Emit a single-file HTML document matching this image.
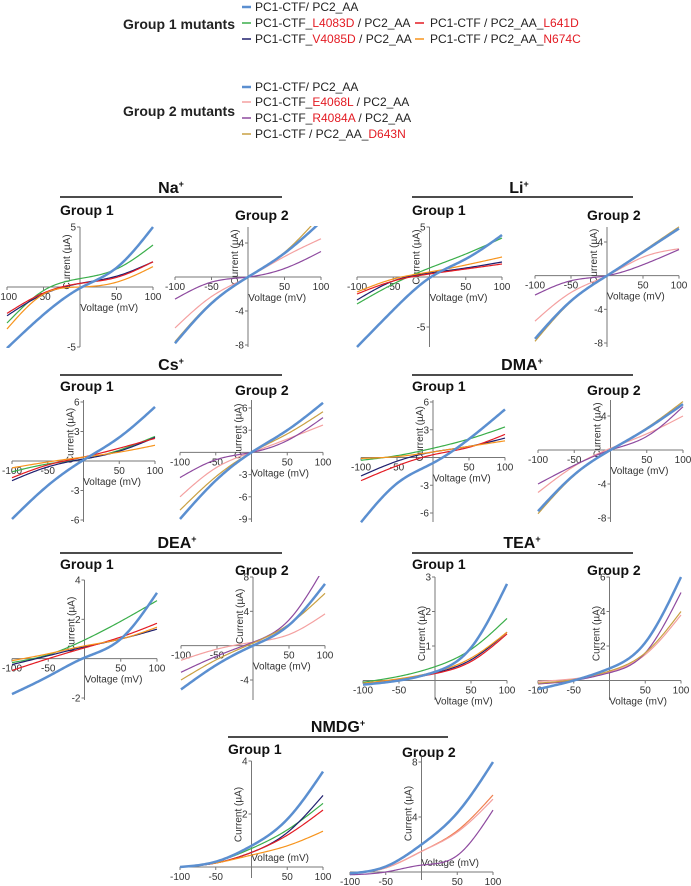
<!DOCTYPE html>
<html><head><meta charset="utf-8">
<style>
html,body{margin:0;padding:0;background:#fff;}
svg{display:block;font-family:"Liberation Sans",Arial,sans-serif;}
</style></head>
<body>
<svg id="fig" width="691" height="886" viewBox="0 0 691 886">
<g id="legend" font-size="12" fill="#222">
  <text x="123" y="29" font-weight="bold" font-size="14">Group 1 mutants</text>
  <line x1="242" y1="7" x2="251" y2="7" stroke="#5b8fd0" stroke-width="2.5"/>
  <text x="255" y="11">PC1-CTF/ PC2_AA</text>
  <line x1="242" y1="23" x2="251" y2="23" stroke="#3aae4a" stroke-width="1.5"/>
  <text x="255" y="27">PC1-CTF_<tspan fill="#e31b23">L4083D</tspan> / PC2_AA</text>
  <line x1="242" y1="39" x2="251" y2="39" stroke="#1f1f6e" stroke-width="1.5"/>
  <text x="255" y="43">PC1-CTF_<tspan fill="#e31b23">V4085D</tspan> / PC2_AA</text>
  <line x1="415" y1="23" x2="424" y2="23" stroke="#e31b23" stroke-width="1.5"/>
  <text x="430" y="27">PC1-CTF / PC2_AA_<tspan fill="#e31b23">L641D</tspan></text>
  <line x1="415" y1="39" x2="424" y2="39" stroke="#f7941d" stroke-width="1.5"/>
  <text x="430" y="43">PC1-CTF / PC2_AA_<tspan fill="#e31b23">N674C</tspan></text>
  <text x="123" y="116" font-weight="bold" font-size="14">Group 2 mutants</text>
  <line x1="242" y1="87" x2="251" y2="87" stroke="#5b8fd0" stroke-width="2.5"/>
  <text x="255" y="91">PC1-CTF/ PC2_AA</text>
  <line x1="242" y1="102" x2="251" y2="102" stroke="#f4a0a0" stroke-width="1.5"/>
  <text x="255" y="106">PC1-CTF_<tspan fill="#e31b23">E4068L</tspan> / PC2_AA</text>
  <line x1="242" y1="118" x2="251" y2="118" stroke="#8e4a9f" stroke-width="1.5"/>
  <text x="255" y="122">PC1-CTF_<tspan fill="#e31b23">R4084A</tspan> / PC2_AA</text>
  <line x1="242" y1="134" x2="251" y2="134" stroke="#c9a042" stroke-width="1.5"/>
  <text x="255" y="138">PC1-CTF / PC2_AA_<tspan fill="#e31b23">D643N</tspan></text>
</g>
<g id="headers" font-weight="bold" fill="#111">
  <text x="171" y="193" font-size="16" text-anchor="middle">Na<tspan font-size="9" dy="-6">+</tspan></text>
  <line x1="60" y1="197" x2="282" y2="197" stroke="#111" stroke-width="1.5"/>
  <text x="519" y="193" font-size="16" text-anchor="middle">Li<tspan font-size="9" dy="-6">+</tspan></text>
  <line x1="412" y1="197" x2="633" y2="197" stroke="#111" stroke-width="1.5"/>
  <text x="171" y="370" font-size="16" text-anchor="middle">Cs<tspan font-size="9" dy="-6">+</tspan></text>
  <line x1="60" y1="375" x2="282" y2="375" stroke="#111" stroke-width="1.5"/>
  <text x="522" y="370" font-size="16" text-anchor="middle">DMA<tspan font-size="9" dy="-6">+</tspan></text>
  <line x1="412" y1="375" x2="633" y2="375" stroke="#111" stroke-width="1.5"/>
  <text x="177" y="548" font-size="16" text-anchor="middle">DEA<tspan font-size="9" dy="-6">+</tspan></text>
  <line x1="60" y1="553" x2="282" y2="553" stroke="#111" stroke-width="1.5"/>
  <text x="522" y="548" font-size="16" text-anchor="middle">TEA<tspan font-size="9" dy="-6">+</tspan></text>
  <line x1="412" y1="553" x2="633" y2="553" stroke="#111" stroke-width="1.5"/>
  <text x="338" y="732" font-size="16" text-anchor="middle">NMDG<tspan font-size="9" dy="-6">+</tspan></text>
  <line x1="228" y1="737" x2="448" y2="737" stroke="#111" stroke-width="1.5"/>
</g>
<g id="panels"></g>
</svg>
<script>
const voltages = [-100, -50, 0, 50, 100];
const xTickLabels = [-100, -50, 50, 100];
const colors = {wt:"#5b8fd0", l4083d:"#3aae4a", v4085d:"#1f1f6e", l641d:"#e31b23", n674c:"#f7941d", e4068l:"#f4a0a0", r4084a:"#8e4a9f", d643n:"#c9a042", nmdgB:"#f08050"};

// Current values (µA) at voltages -100,-50,0,50,100
const naG1 = {l4083d:[-3.0,-0.3,0.7,1.5,3.5], v4085d:[-2.4,-0.6,0.3,0.9,2.1], l641d:[-2.2,-0.5,0.3,0.8,2.1], n674c:[-3.5,-0.6,0.0,0.4,1.7], wt:[-5.1,-2.3,-0.1,1.6,5.0]};
const naG2 = {e4068l:[-6.0,-2.3,0,2.4,4.5], r4084a:[-2.6,-0.6,0,1.0,3.0], d643n:[-7.6,-3.0,0,2.9,7.3], wt:[-7.8,-3.1,0,2.8,6.5]};
const liG1 = {l4083d:[-2.7,-0.7,0.9,2.3,3.9], v4085d:[-2.3,-0.4,0.4,0.9,1.5], l641d:[-1.7,-0.4,0.3,0.8,1.3], n674c:[-1.5,-0.2,0.5,1.2,2.0], wt:[-7.0,-3.3,-0.1,1.8,4.2]};
const liG2 = {e4068l:[-5.4,-2.0,0,2.2,3.2], r4084a:[-2.3,-0.6,0,1.3,3.1], d643n:[-7.8,-3.1,0,2.9,5.8], wt:[-7.5,-3.0,0,2.8,5.6]};
const csG1 = {l4083d:[-1.1,-0.3,0.2,1.1,2.5], v4085d:[-2.0,-0.6,0.2,1.0,2.4], l641d:[-1.7,-0.4,0.4,1.3,2.3], n674c:[-0.7,-0.1,0.4,0.9,1.6], wt:[-5.9,-2.5,0.1,2.4,5.5]};
const csG2 = {e4068l:[-6.0,-2.1,0,1.8,3.7], r4084a:[-3.4,-1.0,0,1.6,4.7], d643n:[-7.8,-3.3,0,2.5,5.5], wt:[-9.0,-3.8,0,3.0,6.7]};
const dmaG1 = {l4083d:[-0.3,0.2,1.0,2.0,3.3], v4085d:[-2.0,-0.4,0.6,1.2,2.1], l641d:[-2.5,-0.9,0.3,1.1,2.5], n674c:[-0.1,0.1,0.6,1.2,1.8], wt:[-7.0,-2.8,-0.6,2.0,5.2]};
const dmaG2 = {e4068l:[-5.0,-1.9,0.2,1.9,4.0], r4084a:[-4.0,-1.8,0,1.6,5.1], d643n:[-7.5,-3.0,0,2.6,5.7], wt:[-7.2,-2.9,0,2.5,5.4]};
const deaG1 = {l4083d:[-0.2,0.2,0.95,1.9,2.95], v4085d:[-0.3,0.15,0.6,1.0,1.5], l641d:[-0.6,0.0,0.55,1.1,1.8], n674c:[-0.1,0.25,0.65,1.0,1.6], wt:[-1.8,-0.9,0.05,1.0,3.35]};
const deaG2 = {e4068l:[-1.7,-0.4,0.4,1.3,3.7], r4084a:[-3.1,-1.2,0.4,3.0,9.3], d643n:[-4.0,-1.6,0.3,2.5,6.1], wt:[-5.1,-2.2,0,2.4,7.2]};
const teaG1 = {l4083d:[-0.05,0.12,0.4,0.9,1.8], v4085d:[-0.1,0.02,0.22,0.6,1.4], l641d:[-0.1,0.02,0.2,0.55,1.35], n674c:[-0.08,0.05,0.25,0.65,1.4], wt:[-0.12,0.0,0.25,0.95,2.8]};
const teaG2 = {e4068l:[-0.05,0.1,0.5,1.5,3.8], r4084a:[-0.2,0.0,0.45,1.6,5.1], d643n:[-0.15,0.05,0.55,1.6,4.0], wt:[-0.5,0.0,0.7,2.2,6.0]};
const nmdgG1 = {l4083d:[0,0.2,0.7,1.4,2.4], v4085d:[0,0.15,0.55,1.3,2.7], l641d:[0,0.15,0.55,1.2,2.15], n674c:[0,0.15,0.45,0.8,1.35], wt:[0,0.2,0.8,1.8,3.6]};
const nmdgG2 = {nmdgB:[-0.1,0.3,1.5,3.0,5.6], e4068l:[-0.1,0.3,1.5,2.9,5.3], r4084a:[-0.2,0.0,0.5,1.2,4.5], wt:[-0.1,0.4,2.0,4.3,8.0]};

// Y-axis tick labels per panel
const naG1Ticks=[5,-5], naG2Ticks=[4,-4,-8], liG1Ticks=[5,-5], liG2Ticks=[4,-4,-8];
const csG1Ticks=[6,3,-3,-6], csG2Ticks=[6,3,-3,-6,-9], dmaG1Ticks=[6,3,-3,-6], dmaG2Ticks=[4,-4,-8];
const deaG1Ticks=[4,2,-2], deaG2Ticks=[8,4,-4], teaG1Ticks=[3,2,1], teaG2Ticks=[6,4,2];
const nmdgG1Ticks=[4,2], nmdgG2Ticks=[8,4];

const panels = [
 {id:"na-g1", data:naG1, ticks:naG1Ticks, x0:7,x1:153, vA:5,yA:227,vB:-5,yB:347, top:227,bot:347, gx:60,gy:215,label:"Group 1"},
 {id:"na-g2", data:naG2, ticks:naG2Ticks, x0:175,x1:321, vA:4,yA:243,vB:-8,yB:345, top:227,bot:347, gx:235,gy:220,label:"Group 2"},
 {id:"li-g1", data:liG1, ticks:liG1Ticks, x0:357,x1:502, vA:5,yA:227,vB:-5,yB:327, top:227,bot:347, gx:412,gy:215,label:"Group 1"},
 {id:"li-g2", data:liG2, ticks:liG2Ticks, x0:535,x1:679, vA:4,yA:242,vB:-8,yB:343, top:227,bot:347, gx:587,gy:220,label:"Group 2"},
 {id:"cs-g1", data:csG1, ticks:csG1Ticks, x0:12,x1:155, vA:6,yA:402,vB:-6,yB:520, top:400,bot:522, gx:60,gy:391,label:"Group 1"},
 {id:"cs-g2", data:csG2, ticks:csG2Ticks, x0:180,x1:323, vA:6,yA:408,vB:-9,yB:519, top:400,bot:522, gx:235,gy:395,label:"Group 2"},
 {id:"dma-g1", data:dmaG1, ticks:dmaG1Ticks, x0:361,x1:505, vA:6,yA:402,vB:-6,yB:513, top:400,bot:522, gx:412,gy:391,label:"Group 1"},
 {id:"dma-g2", data:dmaG2, ticks:dmaG2Ticks, x0:538,x1:683, vA:4,yA:416,vB:-8,yB:518, top:400,bot:522, gx:587,gy:395,label:"Group 2"},
 {id:"dea-g1", data:deaG1, ticks:deaG1Ticks, x0:12,x1:157, vA:4,yA:580,vB:-2,yB:698, top:580,bot:700, gx:60,gy:569,label:"Group 1"},
 {id:"dea-g2", data:deaG2, ticks:deaG2Ticks, x0:181,x1:325, vA:8,yA:577,vB:-4,yB:680, top:577,bot:700, gx:235,gy:575,label:"Group 2"},
 {id:"tea-g1", data:teaG1, ticks:teaG1Ticks, x0:363,x1:507, vA:3,yA:577,vB:1,yB:646, top:577,bot:700, gx:412,gy:569,label:"Group 1"},
 {id:"tea-g2", data:teaG2, ticks:teaG2Ticks, x0:538,x1:681, vA:6,yA:577,vB:2,yB:646, top:577,bot:700, gx:587,gy:575,label:"Group 2"},
 {id:"nmdg-g1", data:nmdgG1, ticks:nmdgG1Ticks, x0:180,x1:323, vA:4,yA:761,vB:2,yB:814, top:761,bot:878, gx:228,gy:754,label:"Group 1", vAbove:true},
 {id:"nmdg-g2", data:nmdgG2, ticks:nmdgG2Ticks, x0:350,x1:493, vA:8,yA:762,vB:4,yB:817, top:757,bot:880, gx:402,gy:757,label:"Group 2", vAbove:true}
];

const NS="http://www.w3.org/2000/svg";
function mk(tag, attrs, parent){const e=document.createElementNS(NS,tag);for(const k in attrs)e.setAttribute(k,attrs[k]);parent.appendChild(e);return e;}
const root=document.getElementById('panels');

// natural cubic spline through (xv, yv)
function spline(xv, yv){
  const n=xv.length, h=[], a=[], l=[1], mu=[0], z=[0], c=new Array(n).fill(0), b=[], d=[];
  for(let i=0;i<n-1;i++)h[i]=xv[i+1]-xv[i];
  for(let i=1;i<n-1;i++)a[i]=3/h[i]*(yv[i+1]-yv[i])-3/h[i-1]*(yv[i]-yv[i-1]);
  for(let i=1;i<n-1;i++){l[i]=2*(xv[i+1]-xv[i-1])-h[i-1]*mu[i-1];mu[i]=h[i]/l[i];z[i]=(a[i]-h[i-1]*z[i-1])/l[i];}
  l[n-1]=1;z[n-1]=0;
  for(let j=n-2;j>=0;j--){c[j]=z[j]-mu[j]*c[j+1];b[j]=(yv[j+1]-yv[j])/h[j]-h[j]*(c[j+1]+2*c[j])/3;d[j]=(c[j+1]-c[j])/(3*h[j]);}
  return x=>{let j=0;while(j<n-2&&x>xv[j+1])j++;const t=x-xv[j];return yv[j]+b[j]*t+c[j]*t*t+d[j]*t*t*t;};
}

panels.forEach(p=>{
  const xs=v=>p.x0+(v+100)/200*(p.x1-p.x0);
  const ys=c=>p.yA+(c-p.vA)*(p.yB-p.yA)/(p.vB-p.vA);
  const g=mk('g',{},root);
  
  
  const gl=mk('text',{x:p.gx,y:p.gy,'font-size':14,'font-weight':'bold',fill:'#111'},g);
  gl.textContent=p.label;
  
  
  const ax=xs(0), ay=ys(0);
  const cp=mk('clipPath',{id:'clip-'+p.id},g);
  mk('rect',{x:p.x0-1,y:p.top-1,width:p.x1-p.x0+2,height:p.bot-p.top+2},cp);
  const xa=mk('line',{x1:p.x0,y1:ay,x2:p.x1,y2:ay,stroke:'#777','stroke-width':1},g);
  
  
  const ya=mk('line',{x1:ax,y1:p.top,x2:ax,y2:p.bot,stroke:'#777','stroke-width':1},g);
  
  
  xTickLabels.forEach(v=>{
    mk('line',{x1:xs(v),y1:ay,x2:xs(v),y2:ay+3,stroke:'#777'},g);
    const t=mk('text',{x:xs(v),y:ay+13,'font-size':10,'text-anchor':'middle',fill:'#333'},g);
    t.textContent=v;
    
    
  });
  p.ticks.forEach(v=>{
    mk('line',{x1:ax-3,y1:ys(v),x2:ax,y2:ys(v),stroke:'#777'},g);
    const t=mk('text',{x:ax-4,y:ys(v)+3.5,'font-size':10,'text-anchor':'end',fill:'#333'},g);
    t.textContent=v;
    
    
  });
  const vl=mk('text',{x:xs(40),y:p.vAbove?ay-6:ay+24,'font-size':10,'text-anchor':'middle',fill:'#333'},g);
  vl.textContent='Voltage (mV)';
  
  
  const cy=(p.top+Math.min(ay,p.bot-20))/2+5;
  const cl=mk('text',{x:0,y:0,'font-size':10,'text-anchor':'middle',fill:'#333',transform:`translate(${ax-10},${cy}) rotate(-90)`},g);
  cl.textContent='Current (µA)';
  
  
  const cg=mk('g',{'clip-path':`url(#clip-${p.id})`},g);
  Object.keys(p.data).forEach(k=>{
    const f=spline(voltages,p.data[k]);
    let d='';
    for(let v=-100;v<=100;v+=2){d+=(v===-100?'M':'L')+xs(v).toFixed(2)+','+ys(f(v)).toFixed(2)+' ';}
    const path=mk('path',{d:d,fill:'none',stroke:colors[k],'stroke-width':k==='wt'?2.5:1.2,'stroke-linejoin':'round'},cg);
    
    
  });
});
</script>
</body></html>
